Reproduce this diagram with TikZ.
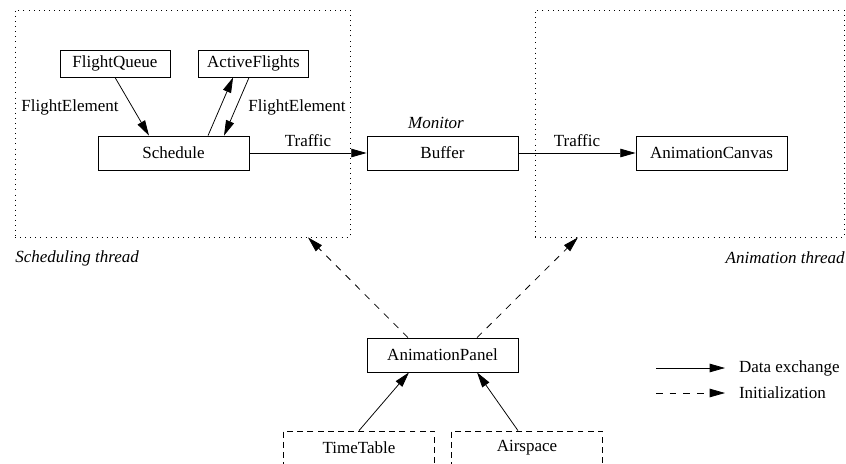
\documentclass[tikz,border=0pt]{standalone}
\usepackage{fontspec}
\setmainfont{Liberation Serif}
\usetikzlibrary{arrows.meta}

\tikzset{
	box/.style={draw, line width=0.45pt, inner sep=0pt},
	smallbox/.style={box, minimum width=64.7pt, minimum height=15.9pt},
	bigbox/.style={box, minimum width=88.8pt, minimum height=20pt},
	extbox/.style={bigbox, dash pattern=on 3.5pt off 2.5pt},
	thread/.style={draw, line width=0.5pt, dash pattern=on 0.5pt off 2.5pt, inner sep=0pt},
	data/.style={line width=0.45pt, -{Triangle[length=9pt,width=5pt]}},
	init/.style={data, dash pattern=on 4pt off 4pt},
}

\begin{document}
\begin{tikzpicture}[x=0.588pt, y=-0.588pt]
	\useasboundingbox (0,0) rectangle (846,463);

	% the two threads
	\node[thread, minimum width=197pt, minimum height=133.5pt] (schthread) at (182.5,123.5) {};
	\node[thread, minimum width=181.7pt, minimum height=133.5pt] (animthread) at (689.5,123.5) {};
	\node[anchor=west, inner sep=0pt] (schlabel) at (15,258) {\textit{Scheduling thread}};
	\node[anchor=east, inner sep=0pt] (animlabel) at (845,258) {\textit{Animation thread}};

	% scheduling side
	\node[smallbox] (fq) at (115,63.5) {FlightQueue};
	\node[smallbox] (af) at (253.5,63.5) {ActiveFlights};
	\node[bigbox] (sch) at (173.5,153) {Schedule};
	\node (fe1) at (70,107) {FlightElement};
	\node (fe2) at (297,107) {FlightElement};
	\draw[data] (fq.south) -- ([xshift=-14.4pt]sch.north);
	\draw[data] ([xshift=20.3pt]sch.north) -- ([xshift=-12pt]af.south);
	\draw[data] ([xshift=-2.6pt]af.south) -- ([xshift=29.7pt]sch.north);

	% monitor and animation side
	\node[bigbox] (buf) at (442.5,153) {Buffer};
	\node (monitor) at (436,123) {\textit{Monitor}};
	\node[bigbox] (canvas) at (711.5,153) {AnimationCanvas};
	\draw[data] (sch.east) -- node[above] (traffic1) {Traffic} (buf.west);
	\draw[data] (buf.east) -- node[above] (traffic2) {Traffic} (canvas.west);

	% initialisation
	\node[bigbox] (panel) at (442.5,355) {AnimationPanel};
	\node[extbox] (tt) at (359,448) {TimeTable};
	\node[extbox] (air) at (527,448) {Airspace};
	\draw[init] ([xshift=-20.3pt]panel.north) -- ([xshift=73.8pt]schthread.south);
	\draw[init] ([xshift=20.3pt]panel.north) -- ([xshift=-65.6pt]animthread.south);
	\draw[data] (tt.north) -- ([xshift=-19.7pt]panel.south);
	\draw[data] ([xshift=-5.3pt]air.north) -- ([xshift=20.3pt]panel.south);

	% legend
	\coordinate (leg1a) at (656,368);
	\coordinate (leg1b) at (725,368);
	\coordinate (leg2a) at (656,393);
	\coordinate (leg2b) at (725,393);
	\draw[data] (leg1a) -- (leg1b);
	\draw[init] (leg2a) -- (leg2b);
	\node[anchor=west] (leglbl1) at (733,368) {Data exchange};
	\node[anchor=west] (leglbl2) at (733,393) {Initialization};
\end{tikzpicture}
\end{document}
